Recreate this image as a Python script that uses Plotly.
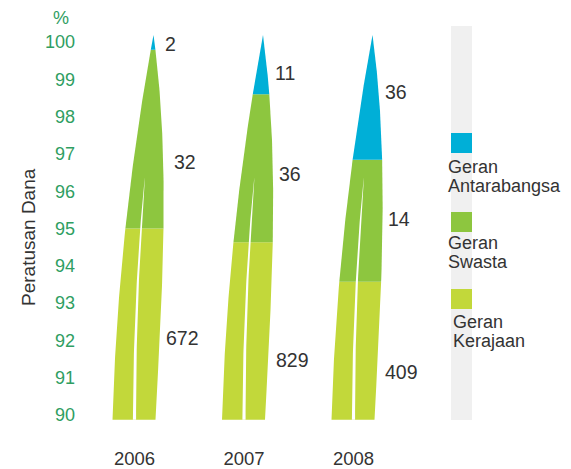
import numpy as np
import plotly.graph_objects as go

# data
years = ["2006", "2007", "2008"]
kerajaan = [672, 829, 409]
swasta = [32, 36, 14]
antarabangsa = [2, 11, 36]
# cumulative percentage tops of each band
kerajaan_top = [95.0, 94.63, 93.57]
swasta_top = [99.79, 98.6, 96.84]
y_ticks = [90, 91, 92, 93, 94, 95, 96, 97, 98, 99, 100]

C_BLUE = "#00afd7"
C_GREEN = "#8dc63f"
C_LIGHT = "#c2d83a"
C_TEXT = "#333333"
C_TICK = "#2f9e62"
FONT = "Liberation Sans, Arial, sans-serif"

W, H = 571, 469
ML, MR, MT, MB = 90, 0, 20, 44
PW, PH = W - ML - MR, H - MT - MB
PX_X = 109.5   # px per category
PX_Y = 37.3    # px per percent
X0 = -(134.5 - ML) / PX_X
Y_TOP = 100 + (42 - MT) / PX_Y
Y_BOT = Y_TOP - PH / PX_Y

BLADE_BOTTOM = 89.87
BLADE_TIP = 100.19


def px(p):
    return (p - ML) / PW


def py(p):
    return (H - MB - p) / PH


def left_edge(t):
    return (-22 + 11 * t + 30 * t ** 2) / PX_X


def right_edge(t):
    return (21 + 19.6 * t + 7.2 * t ** 2 - 28.8 * t ** 3) / PX_X


def to_t(y):
    return (y - BLADE_BOTTOM) / (BLADE_TIP - BLADE_BOTTOM)


def band(xc, y0, y1, color):
    t = np.linspace(to_t(y0), to_t(y1), 80)
    ys = BLADE_BOTTOM + t * (BLADE_TIP - BLADE_BOTTOM)
    xs = np.concatenate([xc + left_edge(t), xc + right_edge(t[::-1])])
    yy = np.concatenate([ys, ys[::-1]])
    return go.Scatter(x=xs, y=yy, fill="toself", fillcolor=color, mode="lines",
                      line=dict(width=0, color=color), hoverinfo="skip", showlegend=False)


def slit(xc):
    t = np.linspace(0, 0.63, 60)
    mid = 26 * t ** 2
    w = 3.2 * np.sqrt(np.clip(1 - t / 0.63, 0, 1))
    ys = BLADE_BOTTOM + t * (BLADE_TIP - BLADE_BOTTOM)
    xs = np.concatenate([xc + (mid - w / 2) / PX_X, xc + (mid[::-1] + w[::-1] / 2) / PX_X])
    yy = np.concatenate([ys, ys[::-1]])
    return go.Scatter(x=xs, y=yy, fill="toself", fillcolor="white", mode="lines",
                      line=dict(width=0, color="white"), hoverinfo="skip", showlegend=False)


fig = go.Figure()
for i, yr in enumerate(years):
    fig.add_trace(band(i, BLADE_BOTTOM, kerajaan_top[i], C_LIGHT))
    fig.add_trace(band(i, kerajaan_top[i], swasta_top[i], C_GREEN))
    fig.add_trace(band(i, swasta_top[i], BLADE_TIP, C_BLUE))
    fig.add_trace(slit(i))

# value labels: (left edge px offset from blade centre, y px)
label_pos = [
    [(28.5, 44), (37.5, 162), (29.5, 338)],
    [(29, 73), (33, 174), (30, 360)],
    [(29.5, 92), (32.5, 219), (29.5, 372)],
]
for i in range(len(years)):
    vals = [antarabangsa[i], swasta[i], kerajaan[i]]
    for v, (dx, ypx) in zip(vals, label_pos[i]):
        fig.add_annotation(x=i + dx / PX_X, y=Y_TOP - (ypx - MT) / PX_Y, text=str(v),
                           showarrow=False, xanchor="left", yanchor="middle",
                           font=dict(family=FONT, size=19.5, color=C_TEXT))

# legend panel
fig.add_shape(type="rect", xref="paper", yref="paper", x0=px(451), x1=px(472),
              y0=py(420), y1=py(26), fillcolor="#f0f0f0", line_width=0, layer="below")
legend_items = [
    (C_BLUE, 133, 448, ["Geran", "Antarabangsa"], 167),
    (C_GREEN, 212, 448, ["Geran", "Swasta"], 243),
    (C_LIGHT, 289, 453, ["Geran", "Kerajaan"], 322),
]
for color, sq_top, tx, lines, ty in legend_items:
    fig.add_shape(type="rect", xref="paper", yref="paper", x0=px(451), x1=px(472),
                  y0=py(sq_top + 20), y1=py(sq_top), fillcolor=color, line_width=0)
    for k, line in enumerate(lines):
        fig.add_annotation(xref="paper", yref="paper", x=px(tx - 1), y=py(ty + 18.5 * k),
                           text=line, showarrow=False, xanchor="left", yanchor="middle",
                           borderpad=0, font=dict(family=FONT, size=18, color=C_TEXT))

fig.add_annotation(xref="paper", yref="paper", x=px(61), y=py(18), text="%",
                   showarrow=False, xanchor="center", yanchor="middle",
                   font=dict(family=FONT, size=18, color=C_TICK))
fig.add_annotation(xref="paper", yref="paper", x=px(28), y=py(237), text="Peratusan Dana",
                   textangle=-90, showarrow=False, xanchor="center", yanchor="middle",
                   font=dict(family=FONT, size=19, color=C_TEXT))

fig.update_layout(
    width=W, height=H,
    margin=dict(l=ML, r=MR, t=MT, b=MB),
    paper_bgcolor="white", plot_bgcolor="white",
    showlegend=False,
)
fig.update_xaxes(range=[X0, X0 + PW / PX_X], tickvals=list(range(len(years))), ticktext=years,
                 showgrid=False, zeroline=False, showline=False, ticks="",
                 ticklabelstandoff=20, tickfont=dict(family=FONT, size=18.5, color=C_TEXT))
fig.update_yaxes(range=[Y_BOT, Y_TOP], tickvals=y_ticks, showgrid=False, zeroline=False,
                 showline=False, ticks="", ticklabelstandoff=14,
                 tickfont=dict(family=FONT, size=18, color=C_TICK))

fig.write_html("out.html", config={"displayModeBar": False},
               post_script="document.body.style.margin='0';")
